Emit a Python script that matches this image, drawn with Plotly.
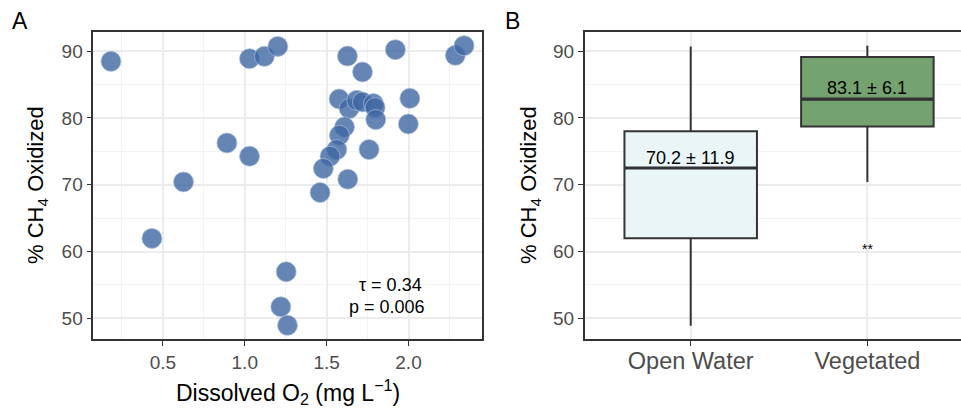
import plotly.graph_objects as go

# ---- Panel A data: dissolved O2 vs % CH4 oxidized ----
do_mg_l = [0.183, 0.433, 0.626, 0.891, 1.029, 1.029, 1.120, 1.202, 1.627, 1.719,
           1.920, 2.286, 2.339, 1.576, 1.637, 1.684, 1.719, 1.786, 1.796, 1.800,
           2.008, 1.999, 1.609, 1.578, 1.562, 1.521, 1.480, 1.759, 1.629, 1.460,
           1.253, 1.220, 1.261]
pct_oxidized = [88.46, 61.96, 70.42, 76.25, 74.26, 88.86, 89.21, 90.70, 89.25, 86.86,
                90.21, 89.36, 90.81, 82.83, 81.39, 82.63, 82.38, 82.14, 81.54, 79.75,
                82.93, 79.09, 78.64, 77.40, 75.26, 74.26, 72.42, 75.26, 70.82, 68.83,
                56.97, 51.73, 48.95]
stats_text = ["τ = 0.34", "p = 0.006"]

# ---- Panel B data: box summaries ----
habitats = ["Open Water", "Vegetated"]
box_pos = [1, 2]
box_low = [48.9, 70.4]
box_q1 = [62.0, 78.7]
box_median = [72.5, 82.8]
box_q3 = [78.0, 89.1]
box_high = [90.7, 90.8]
box_labels = ["70.2 ± 11.9", "83.1 ± 6.1"]
box_label_y = [74.0, 84.4]
box_fill = ["#EAF5F8", "#74A36F"]
sig_label = "**"
sig_y = 60.4

y_ticks = [50, 60, 70, 80, 90]
x_ticks_a = [0.5, 1.0, 1.5, 2.0]

FONT = "Arial, Liberation Sans, Helvetica, sans-serif"
GRID = "#EBEBEB"
MINOR = "#F3F3F3"
BORDER = "#333333"
TICKC = "#4D4D4D"
W, H = 961, 409

fig = go.Figure()

fig.add_trace(go.Scatter(
    x=do_mg_l, y=pct_oxidized, mode="markers", xaxis="x", yaxis="y",
    marker=dict(size=20, color="rgba(62,103,163,0.80)",
                line=dict(width=1, color="rgba(170,190,220,0.7)")),
    showlegend=False, hoverinfo="skip"))

for i, h in enumerate(habitats):
    fig.add_trace(go.Box(
        x=[box_pos[i]], q1=[box_q1[i]], median=[box_median[i]], q3=[box_q3[i]],
        lowerfence=[box_low[i]], upperfence=[box_high[i]],
        width=0.75, whiskerwidth=0, fillcolor=box_fill[i],
        line=dict(color=BORDER, width=2),
        boxpoints=False, xaxis="x2", yaxis="y2", showlegend=False, hoverinfo="skip"))
    fig.add_trace(go.Scatter(
        x=[box_pos[i] - 0.375, box_pos[i] + 0.375], y=[box_median[i]] * 2,
        mode="lines", line=dict(color=BORDER, width=3.2),
        xaxis="x2", yaxis="y2", showlegend=False, hoverinfo="skip"))

ydom = [(H - 339.3) / H, (H - 31.7) / H]
yrange = [46.86, 92.9]

common_axis = dict(showline=True, linecolor=BORDER, linewidth=1.5,
                   ticks="outside", ticklen=5, tickcolor=BORDER, tickwidth=1.2,
                   gridcolor=GRID, gridwidth=1.5, zeroline=False,
                   tickfont=dict(family=FONT, size=19, color=TICKC))

fig.update_layout(
    width=W, height=H, margin=dict(l=0, r=0, t=0, b=0),
    paper_bgcolor="white", plot_bgcolor="white",
    font=dict(family=FONT, color="black"),
    xaxis=dict(domain=[93.3 / W, 481.7 / W], range=[0.075, 2.447], anchor="y",
               tickvals=x_ticks_a, ticktext=["0.5", "1.0", "1.5", "2.0"], mirror=True,
               minor=dict(showgrid=True, gridcolor=MINOR, gridwidth=1, dtick=0.25,
                          tick0=0.25, ticks=""),
               **common_axis),
    yaxis=dict(domain=ydom, range=yrange, anchor="x", tickvals=y_ticks, mirror=True,
               minor=dict(showgrid=True, gridcolor=MINOR, gridwidth=1, dtick=5,
                          tick0=45, ticks=""),
               **common_axis),
    xaxis2=dict(domain=[584.7 / W, 1.0], range=[0.4, 2.53], anchor="y2",
                tickvals=box_pos, ticktext=habitats, mirror=True, ticklabelstandoff=-5,
                **{**common_axis, "tickfont": dict(family=FONT, size=23.5, color=TICKC)}),
    yaxis2=dict(domain=ydom, range=yrange, anchor="x2", tickvals=y_ticks, mirror=False,
                minor=dict(showgrid=True, gridcolor=MINOR, gridwidth=1, dtick=5,
                           tick0=45, ticks=""),
                **common_axis),
)

def txt(text, x, y, size, xref="paper", yref="paper", angle=0):
    return dict(text=text, x=x, y=y, xref=xref, yref=yref, textangle=angle,
                xanchor="center", yanchor="middle", showarrow=False,
                font=dict(size=size, family=FONT, color="black"))

ann = []
# panel tags
ann.append(txt("A", 20 / W, 1 - 21 / H, 23))
ann.append(txt("B", 512 / W, 1 - 21 / H, 23))
# axis titles
ann.append(txt("% CH<sub>4</sub> Oxidized", 37 / W, 1 - 185 / H, 22, angle=-90))
ann.append(txt("% CH<sub>4</sub> Oxidized", 530 / W, 1 - 185 / H, 22, angle=-90))
ann.append(txt("Dissolved O<sub>2</sub> (mg L<sup>−1</sup>)", 288 / W, 1 - 392 / H, 23))
# stats text
ann.append(txt(stats_text[0], 1.89, 55.0, 18, "x", "y"))
ann.append(txt(stats_text[1], 1.87, 51.7, 18, "x", "y"))
# box labels
for i in range(len(habitats)):
    ann.append(txt(box_labels[i], box_pos[i], box_label_y[i], 18, "x2", "y2"))
ann.append(txt(sig_label, 2, sig_y, 14, "x2", "y2"))
fig.update_layout(annotations=ann)

fig.write_html("out.html")
